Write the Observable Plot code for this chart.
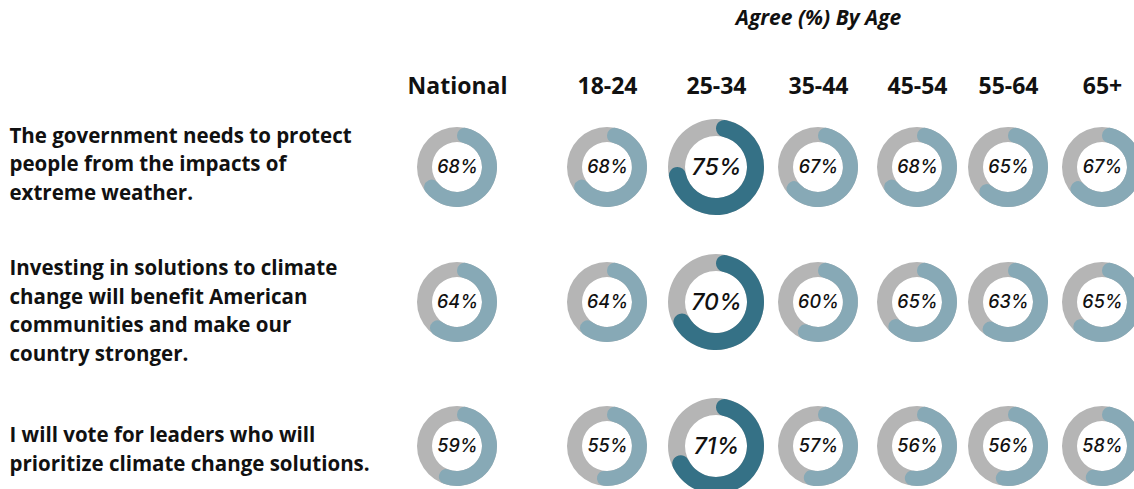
<!DOCTYPE html>
<html>
<head>
<meta charset="utf-8">
<script src="https://cdn.jsdelivr.net/npm/d3@7"></script>
<script src="https://cdn.jsdelivr.net/npm/@observablehq/plot@0.6"></script>
<style>
  html, body { margin: 0; padding: 0; background: #fff; }
  #chart svg { display: block; }
</style>
</head>
<body>
<div id="chart"></div>
<script>
// ---- data ----
const columns = ["National", "18-24", "25-34", "35-44", "45-54", "55-64", "65+"];
const statements = [
  "The government needs to protect\npeople from the impacts of\nextreme weather.",
  "Investing in solutions to climate\nchange will benefit American\ncommunities and make our\ncountry stronger.",
  "I will vote for leaders who will\nprioritize climate change solutions."
];
const national = [68, 64, 59];
const age18_24 = [68, 64, 55];
const age25_34 = [75, 70, 71];
const age35_44 = [67, 60, 57];
const age45_54 = [68, 65, 56];
const age55_64 = [65, 63, 56];
const age65plus = [67, 65, 58];
const headerTitle = "Agree (%) By Age";
const highlightColumn = "25-34";

const seriesByColumn = [national, age18_24, age25_34, age35_44, age45_54, age55_64, age65plus];
const table = [];
columns.forEach((col, ci) => {
  statements.forEach((s, si) => {
    table.push({col, ci, si, value: seriesByColumn[ci][si], highlight: col === highlightColumn});
  });
});

// ---- styles / layout ----
const gray = "#b5b5b5";
const light = "#87a9b6";
const dark = "#357186";
const labelOffsets = [-5.5, 6.5, 1];

function donutRender(index, scales, values) {
  const g = d3.create("svg:g");
  for (const i of index) {
    const d = table[i];
    const ro = d.highlight ? 48 : 40;
    const ri = d.highlight ? 31 : 25;
    const cx = values.x[i], cy = values.y[i];
    const gg = g.append("g").attr("transform", `translate(${cx},${cy})`);
    gg.append("path")
      .attr("d", d3.arc()({innerRadius: ri, outerRadius: ro, startAngle: 0, endAngle: 2 * Math.PI}))
      .attr("fill", gray);
    gg.append("path")
      .attr("d", d3.arc().cornerRadius((ro - ri) / 2)({innerRadius: ri, outerRadius: ro, startAngle: 0, endAngle: d.value / 100 * 2 * Math.PI}))
      .attr("fill", d.highlight ? dark : light);
  }
  return g.node();
}

const chart = Plot.plot({
  width: 1134,
  height: 489,
  margin: 0,
  style: {fontFamily: "'Open Sans', sans-serif", color: "#111", background: "#fff"},
  x: {type: "linear", domain: [0, 1, 2, 3, 4, 5, 6], range: [457, 607, 716, 818, 917, 1008, 1102], axis: null},
  y: {type: "linear", domain: [0, 1, 2], range: [167, 302, 446], axis: null},
  marks: [
    Plot.dot(table, {x: "ci", y: "si", r: 0, render: donutRender}),
    Plot.text(table, {
      x: "ci", y: "si",
      text: d => d.value + "%",
      fontSize: d => d.highlight ? 23 : 18,
      fontStyle: "italic",
      fontWeight: 500,
      fontFamily: "Inter, sans-serif",
      fill: "#111"
    }),
    Plot.text(columns, {
      x: (d, i) => i,
      text: d => d,
      frameAnchor: "top",
      lineAnchor: "middle",
      dy: 86,
      fontSize: 23,
      fontWeight: 700,
      fill: "#111"
    }),
    Plot.text([headerTitle], {
      x: () => 3,
      text: d => d,
      frameAnchor: "top",
      lineAnchor: "middle",
      dy: 18,
      fontSize: 21,
      fontWeight: 700,
      fontStyle: "italic",
      fill: "#111"
    }),
    ...statements.map((s, si) => Plot.text([s], {
      y: () => si,
      text: d => d,
      frameAnchor: "left",
      textAnchor: "start",
      lineAnchor: "middle",
      dx: 9,
      dy: labelOffsets[si],
      lineHeight: 1.39,
      fontSize: 20.5,
      fontWeight: 700,
      fill: "#111"
    }))
  ]
});
document.getElementById("chart").appendChild(chart);
</script>
</body>
</html>
